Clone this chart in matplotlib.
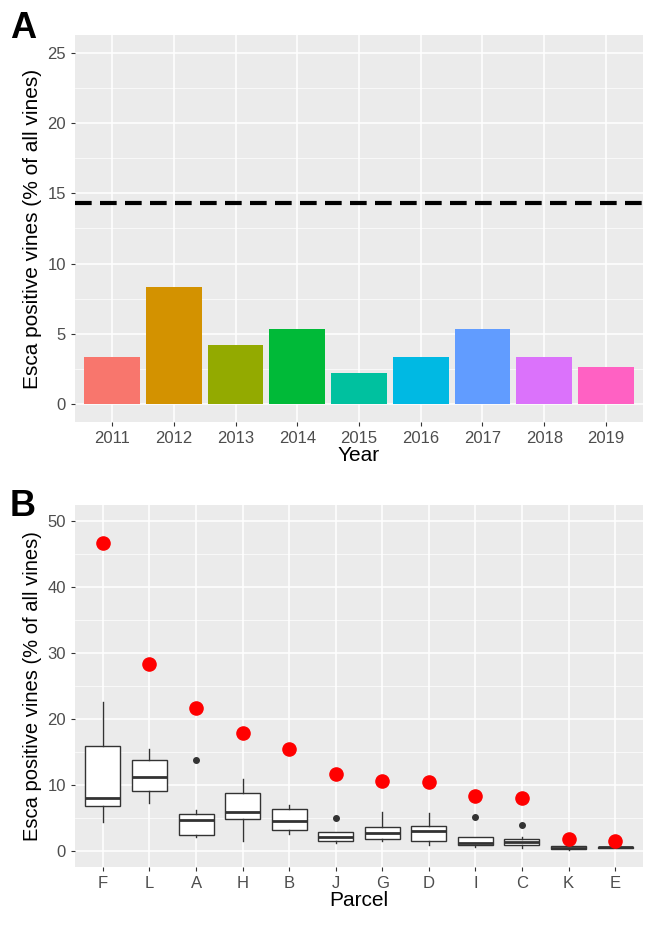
import matplotlib.pyplot as plt

years = ["2011", "2012", "2013", "2014", "2015", "2016", "2017", "2018", "2019"]
year_pct = [3.3, 8.3, 4.2, 5.3, 2.2, 3.3, 5.3, 3.3, 2.6]
year_colors = ["#F8766D", "#D39200", "#93AA00", "#00BA38", "#00C19F",
               "#00B9E3", "#619CFF", "#DB72FB", "#FF61C3"]
overall_pct = 14.3

parcels = ["F", "L", "A", "H", "B", "J", "G", "D", "I", "C", "K", "E"]
# whislo, q1, med, q3, whishi
box_lo = [4.3, 7.2, 2.1, 1.4, 2.5, 1.1, 1.4, 0.9, 0.6, 0.4, 0.1, 0.35]
box_q1 = [6.7, 9.1, 2.3, 4.8, 3.1, 1.4, 1.7, 1.5, 0.9, 0.8, 0.2, 0.4]
box_med = [8.0, 11.1, 4.6, 5.8, 4.5, 2.1, 2.6, 3.0, 1.2, 1.3, 0.4, 0.5]
box_q3 = [15.9, 13.8, 5.5, 8.7, 6.3, 2.8, 3.6, 3.8, 2.1, 1.8, 0.7, 0.6]
box_hi = [22.6, 15.4, 6.1, 10.9, 6.9, 2.8, 5.9, 5.7, 2.1, 2.1, 0.8, 0.65]
box_fliers = [[], [], [13.8], [], [], [4.9], [], [], [5.1], [3.9], [], []]
cumulative_pct = [46.7, 28.3, 21.6, 17.9, 15.5, 11.6, 10.5, 10.4, 8.3, 8.0, 1.7, 1.5]

plt.rcParams['font.family'] = ['Liberation Sans', 'DejaVu Sans']
fig = plt.figure(figsize=(6.45, 9.3), dpi=100)
ax1 = fig.add_axes([75 / 645, 1 - 422 / 930, 568 / 645, 387 / 930])
ax2 = fig.add_axes([75 / 645, 1 - 867 / 930, 568 / 645, 362 / 930])


def gg_style(ax):
    ax.set_facecolor("#EBEBEB")
    for s in ax.spines.values():
        s.set_visible(False)
    ax.grid(True, which="major", color="white", linewidth=1.1)
    ax.grid(True, which="minor", axis="y", color="white", linewidth=0.5)
    ax.set_axisbelow(True)
    ax.tick_params(colors="#4D4D4D", labelsize=12, length=3, color="#333333")
    ax.tick_params(which="minor", length=0)


x = list(range(len(years)))
ax1.bar(x, year_pct, width=0.9, color=year_colors)
ax1.axhline(overall_pct, color="black", linestyle=(0, (4, 2)), linewidth=3)
ax1.set_xticks(x)
ax1.set_xticklabels(years)
ax1.set_xlim(-0.6, len(years) - 0.4)
ax1.set_ylim(-1.3, 26.3)
ax1.set_yticks([0, 5, 10, 15, 20, 25])
ax1.set_yticks([2.5, 7.5, 12.5, 17.5, 22.5], minor=True)
ax1.set_xlabel("Year", fontsize=15, labelpad=0)
ax1.set_ylabel("Esca positive vines (% of all vines)", fontsize=15)
gg_style(ax1)
ax1.grid(False, axis="x", which="minor")

stats = []
for i, p in enumerate(parcels):
    stats.append(dict(label=p, whislo=box_lo[i], q1=box_q1[i], med=box_med[i],
                      q3=box_q3[i], whishi=box_hi[i], fliers=box_fliers[i]))
xp = list(range(len(parcels)))
ax2.bxp(stats, positions=xp, widths=0.75, patch_artist=True, showcaps=False,
        boxprops=dict(facecolor="white", edgecolor="#333333", linewidth=1),
        medianprops=dict(color="#333333", linewidth=2),
        whiskerprops=dict(color="#333333", linewidth=1),
        flierprops=dict(marker="o", markerfacecolor="#333333",
                        markeredgecolor="#333333", markersize=4))
ax2.scatter(xp, cumulative_pct, s=90, color="red", zorder=5)
ax2.set_xticks(xp)
ax2.set_xticklabels(parcels)
ax2.set_xlim(-0.6, len(parcels) - 0.4)
ax2.set_ylim(-2.5, 52.5)
ax2.set_yticks([0, 10, 20, 30, 40, 50])
ax2.set_yticks([5, 15, 25, 35, 45], minor=True)
ax2.set_xlabel("Parcel", fontsize=15, labelpad=0)
ax2.set_ylabel("Esca positive vines (% of all vines)", fontsize=14.5)
gg_style(ax2)

fig.text(10 / 645, 1 - 38 / 930, "A", fontsize=26, fontweight="bold")
fig.text(10 / 645, 1 - 516 / 930, "B", fontsize=26, fontweight="bold")

fig.savefig("out.png", dpi=100)
